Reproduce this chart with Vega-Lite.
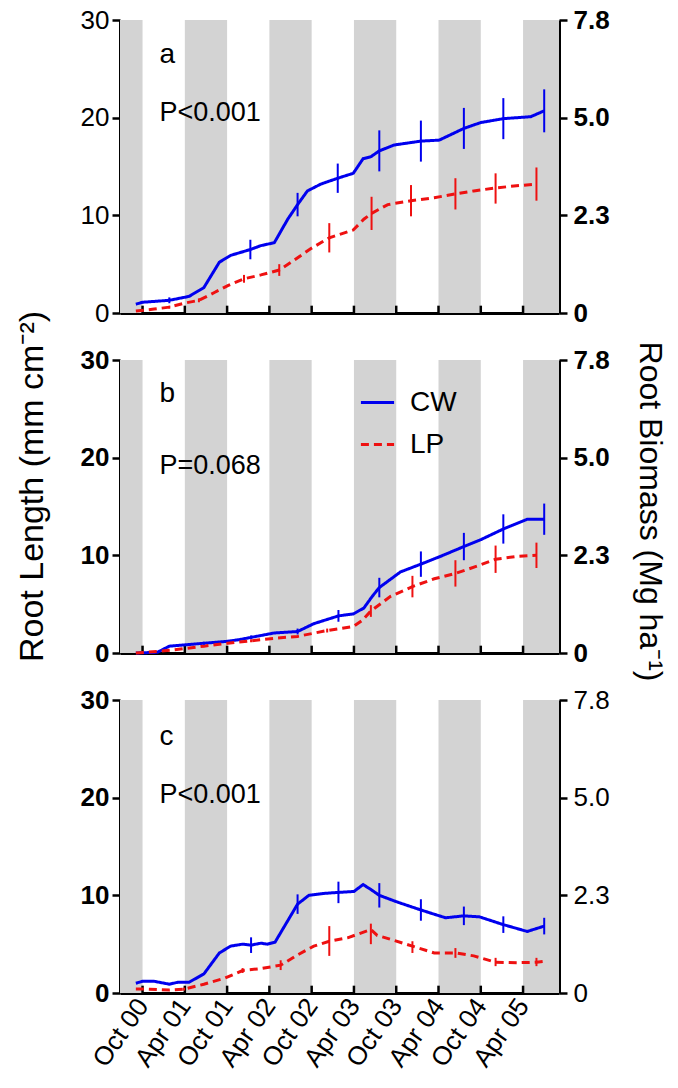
{
  "$schema": "https://vega.github.io/schema/vega-lite/v6.json",
  "padding": {"left": 15, "top": 7, "right": 2, "bottom": 2},
  "background": "white",
  "config": {
    "font": "Liberation Sans",
    "view": {"stroke": null},
    "axis": {"grid": false, "zindex": 2, "domainColor": "black", "tickColor": "black", "domainWidth": 3, "tickWidth": 2.5, "labelColor": "black", "titleColor": "black", "labelFontSize": 26, "titleFontSize": 34, "titleFontWeight": "normal", "labelFont": "Liberation Sans", "titleFont": "Liberation Sans"},
    "legend": {"labelFont": "Liberation Sans"}
  },
  "datasets": {
    "bands": [
      {"start": -3.2, "end": 0},
      {"start": 6, "end": 12},
      {"start": 18, "end": 24},
      {"start": 30, "end": 36},
      {"start": 42, "end": 48},
      {"start": 54, "end": 59.1}
    ],
    "xticks": [
      {"t": 0}, {"t": 6}, {"t": 12}, {"t": 18}, {"t": 24}, {"t": 30}, {"t": 36}, {"t": 42}, {"t": 48}, {"t": 54}
    ],
    "roots": [
      {"panel": "a", "series": "CW", "m": -0.95, "v": 0.9},
      {"panel": "a", "series": "CW", "m": 0, "v": 1.1},
      {"panel": "a", "series": "CW", "m": 3.8, "v": 1.3, "lo": 1.0, "hi": 1.6},
      {"panel": "a", "series": "CW", "m": 6.6, "v": 1.7},
      {"panel": "a", "series": "CW", "m": 8.7, "v": 2.6},
      {"panel": "a", "series": "CW", "m": 10.9, "v": 5.2},
      {"panel": "a", "series": "CW", "m": 12.5, "v": 5.9},
      {"panel": "a", "series": "CW", "m": 15.3, "v": 6.5, "lo": 5.5, "hi": 7.5},
      {"panel": "a", "series": "CW", "m": 16.8, "v": 6.9},
      {"panel": "a", "series": "CW", "m": 18.7, "v": 7.2},
      {"panel": "a", "series": "CW", "m": 20.6, "v": 9.6},
      {"panel": "a", "series": "CW", "m": 22.0, "v": 11.1, "lo": 9.9, "hi": 12.3},
      {"panel": "a", "series": "CW", "m": 23.4, "v": 12.5},
      {"panel": "a", "series": "CW", "m": 25.3, "v": 13.2},
      {"panel": "a", "series": "CW", "m": 27.7, "v": 13.8, "lo": 12.3, "hi": 15.3},
      {"panel": "a", "series": "CW", "m": 29.9, "v": 14.3},
      {"panel": "a", "series": "CW", "m": 31.3, "v": 15.8},
      {"panel": "a", "series": "CW", "m": 32.4, "v": 16.0},
      {"panel": "a", "series": "CW", "m": 33.6, "v": 16.6, "lo": 14.5, "hi": 18.7},
      {"panel": "a", "series": "CW", "m": 35.7, "v": 17.2},
      {"panel": "a", "series": "CW", "m": 39.5, "v": 17.6, "lo": 15.5, "hi": 19.7},
      {"panel": "a", "series": "CW", "m": 42.1, "v": 17.7},
      {"panel": "a", "series": "CW", "m": 45.6, "v": 18.9, "lo": 16.8, "hi": 21.0},
      {"panel": "a", "series": "CW", "m": 48.0, "v": 19.5},
      {"panel": "a", "series": "CW", "m": 51.2, "v": 19.9, "lo": 17.8, "hi": 22.0},
      {"panel": "a", "series": "CW", "m": 55.1, "v": 20.1},
      {"panel": "a", "series": "CW", "m": 57.0, "v": 20.7, "lo": 18.5, "hi": 22.9},
      {"panel": "a", "series": "LP", "m": -0.95, "v": 0.2},
      {"panel": "a", "series": "LP", "m": 1.65, "v": 0.4},
      {"panel": "a", "series": "LP", "m": 3.8, "v": 0.6, "lo": 0.45, "hi": 0.75},
      {"panel": "a", "series": "LP", "m": 5.9, "v": 1.0},
      {"panel": "a", "series": "LP", "m": 8.0, "v": 1.3, "lo": 1.1, "hi": 1.5},
      {"panel": "a", "series": "LP", "m": 10.2, "v": 2.1},
      {"panel": "a", "series": "LP", "m": 12.1, "v": 2.8},
      {"panel": "a", "series": "LP", "m": 14.4, "v": 3.5, "lo": 3.1, "hi": 3.9},
      {"panel": "a", "series": "LP", "m": 16.8, "v": 3.9},
      {"panel": "a", "series": "LP", "m": 19.4, "v": 4.4, "lo": 3.8, "hi": 5.0},
      {"panel": "a", "series": "LP", "m": 21.5, "v": 5.4},
      {"panel": "a", "series": "LP", "m": 23.9, "v": 6.6},
      {"panel": "a", "series": "LP", "m": 26.5, "v": 7.7, "lo": 6.2, "hi": 9.2},
      {"panel": "a", "series": "LP", "m": 29.9, "v": 8.5},
      {"panel": "a", "series": "LP", "m": 31.4, "v": 9.6},
      {"panel": "a", "series": "LP", "m": 32.5, "v": 10.2, "lo": 8.5, "hi": 11.9},
      {"panel": "a", "series": "LP", "m": 34.8, "v": 11.1},
      {"panel": "a", "series": "LP", "m": 38.1, "v": 11.5, "lo": 9.9, "hi": 13.1},
      {"panel": "a", "series": "LP", "m": 41.4, "v": 11.8},
      {"panel": "a", "series": "LP", "m": 44.4, "v": 12.2, "lo": 10.6, "hi": 13.8},
      {"panel": "a", "series": "LP", "m": 47.0, "v": 12.5},
      {"panel": "a", "series": "LP", "m": 50.1, "v": 12.8, "lo": 11.2, "hi": 14.3},
      {"panel": "a", "series": "LP", "m": 52.7, "v": 13.0},
      {"panel": "a", "series": "LP", "m": 55.9, "v": 13.2, "lo": 11.5, "hi": 14.9},
      {"panel": "b", "series": "CW", "m": -0.95, "v": 0},
      {"panel": "b", "series": "CW", "m": 2.1, "v": 0.07},
      {"panel": "b", "series": "CW", "m": 3.8, "v": 0.7},
      {"panel": "b", "series": "CW", "m": 8.7, "v": 1.0, "lo": 0.85, "hi": 1.15},
      {"panel": "b", "series": "CW", "m": 12.1, "v": 1.2},
      {"panel": "b", "series": "CW", "m": 14.0, "v": 1.4},
      {"panel": "b", "series": "CW", "m": 15.4, "v": 1.6, "lo": 1.4, "hi": 1.8},
      {"panel": "b", "series": "CW", "m": 18.7, "v": 2.05},
      {"panel": "b", "series": "CW", "m": 22.0, "v": 2.2, "lo": 1.9, "hi": 2.5},
      {"panel": "b", "series": "CW", "m": 24.3, "v": 3.0},
      {"panel": "b", "series": "CW", "m": 27.8, "v": 3.8, "lo": 3.2, "hi": 4.4},
      {"panel": "b", "series": "CW", "m": 29.9, "v": 4.0},
      {"panel": "b", "series": "CW", "m": 31.4, "v": 4.6},
      {"panel": "b", "series": "CW", "m": 32.6, "v": 5.8},
      {"panel": "b", "series": "CW", "m": 33.6, "v": 6.7, "lo": 5.7, "hi": 7.7},
      {"panel": "b", "series": "CW", "m": 36.6, "v": 8.3},
      {"panel": "b", "series": "CW", "m": 39.5, "v": 9.1, "lo": 7.8, "hi": 10.4},
      {"panel": "b", "series": "CW", "m": 42.3, "v": 9.9},
      {"panel": "b", "series": "CW", "m": 45.6, "v": 10.9, "lo": 9.5, "hi": 12.3},
      {"panel": "b", "series": "CW", "m": 48.0, "v": 11.6},
      {"panel": "b", "series": "CW", "m": 51.2, "v": 12.7, "lo": 11.2, "hi": 14.2},
      {"panel": "b", "series": "CW", "m": 54.6, "v": 13.7},
      {"panel": "b", "series": "CW", "m": 57.0, "v": 13.7, "lo": 12.1, "hi": 15.3},
      {"panel": "b", "series": "LP", "m": -0.95, "v": 0},
      {"panel": "b", "series": "LP", "m": 2.1, "v": 0.15},
      {"panel": "b", "series": "LP", "m": 5.4, "v": 0.4},
      {"panel": "b", "series": "LP", "m": 8.7, "v": 0.7},
      {"panel": "b", "series": "LP", "m": 12.1, "v": 1.0},
      {"panel": "b", "series": "LP", "m": 15.4, "v": 1.25, "lo": 1.1, "hi": 1.4},
      {"panel": "b", "series": "LP", "m": 18.7, "v": 1.5},
      {"panel": "b", "series": "LP", "m": 22.0, "v": 1.7},
      {"panel": "b", "series": "LP", "m": 26.2, "v": 2.3, "lo": 2.1, "hi": 2.5},
      {"panel": "b", "series": "LP", "m": 29.9, "v": 2.7},
      {"panel": "b", "series": "LP", "m": 31.2, "v": 3.35},
      {"panel": "b", "series": "LP", "m": 32.4, "v": 4.3, "lo": 3.7, "hi": 4.9},
      {"panel": "b", "series": "LP", "m": 35.2, "v": 5.8},
      {"panel": "b", "series": "LP", "m": 38.3, "v": 6.8, "lo": 5.7, "hi": 7.9},
      {"panel": "b", "series": "LP", "m": 41.4, "v": 7.6},
      {"panel": "b", "series": "LP", "m": 44.4, "v": 8.15, "lo": 6.8, "hi": 9.5},
      {"panel": "b", "series": "LP", "m": 47.5, "v": 8.9},
      {"panel": "b", "series": "LP", "m": 50.1, "v": 9.6, "lo": 8.2, "hi": 11.0},
      {"panel": "b", "series": "LP", "m": 53.2, "v": 9.9},
      {"panel": "b", "series": "LP", "m": 55.9, "v": 10.0, "lo": 8.7, "hi": 11.3},
      {"panel": "c", "series": "CW", "m": -0.95, "v": 1.0},
      {"panel": "c", "series": "CW", "m": 0, "v": 1.2},
      {"panel": "c", "series": "CW", "m": 1.65, "v": 1.2},
      {"panel": "c", "series": "CW", "m": 3.8, "v": 0.9},
      {"panel": "c", "series": "CW", "m": 5.0, "v": 1.1},
      {"panel": "c", "series": "CW", "m": 6.6, "v": 1.1},
      {"panel": "c", "series": "CW", "m": 8.7, "v": 1.95},
      {"panel": "c", "series": "CW", "m": 10.9, "v": 4.1},
      {"panel": "c", "series": "CW", "m": 12.5, "v": 4.8},
      {"panel": "c", "series": "CW", "m": 14.2, "v": 5.0},
      {"panel": "c", "series": "CW", "m": 15.4, "v": 4.9, "lo": 4.1, "hi": 5.7},
      {"panel": "c", "series": "CW", "m": 16.8, "v": 5.1},
      {"panel": "c", "series": "CW", "m": 17.7, "v": 5.0},
      {"panel": "c", "series": "CW", "m": 18.8, "v": 5.2},
      {"panel": "c", "series": "CW", "m": 22.0, "v": 9.1, "lo": 8.1, "hi": 10.1},
      {"panel": "c", "series": "CW", "m": 23.6, "v": 10.0},
      {"panel": "c", "series": "CW", "m": 25.8, "v": 10.2},
      {"panel": "c", "series": "CW", "m": 27.8, "v": 10.3, "lo": 9.2, "hi": 11.4},
      {"panel": "c", "series": "CW", "m": 30.0, "v": 10.4},
      {"panel": "c", "series": "CW", "m": 31.3, "v": 11.1},
      {"panel": "c", "series": "CW", "m": 32.4, "v": 10.6},
      {"panel": "c", "series": "CW", "m": 33.6, "v": 10.0, "lo": 8.75, "hi": 11.25},
      {"panel": "c", "series": "CW", "m": 36.2, "v": 9.3},
      {"panel": "c", "series": "CW", "m": 39.5, "v": 8.5, "lo": 7.4, "hi": 9.6},
      {"panel": "c", "series": "CW", "m": 43.0, "v": 7.7},
      {"panel": "c", "series": "CW", "m": 45.6, "v": 7.9, "lo": 6.95, "hi": 8.85},
      {"panel": "c", "series": "CW", "m": 47.8, "v": 7.8},
      {"panel": "c", "series": "CW", "m": 51.2, "v": 7.0, "lo": 6.15, "hi": 7.85},
      {"panel": "c", "series": "CW", "m": 54.6, "v": 6.3},
      {"panel": "c", "series": "CW", "m": 57.0, "v": 6.85, "lo": 6.0, "hi": 7.7},
      {"panel": "c", "series": "LP", "m": -0.95, "v": 0.4},
      {"panel": "c", "series": "LP", "m": 0.7, "v": 0.4},
      {"panel": "c", "series": "LP", "m": 3.8, "v": 0.3},
      {"panel": "c", "series": "LP", "m": 5.9, "v": 0.4, "lo": 0.25, "hi": 0.55},
      {"panel": "c", "series": "LP", "m": 8.7, "v": 0.9},
      {"panel": "c", "series": "LP", "m": 11.6, "v": 1.5},
      {"panel": "c", "series": "LP", "m": 14.2, "v": 2.3, "lo": 2.05, "hi": 2.55},
      {"panel": "c", "series": "LP", "m": 16.8, "v": 2.5},
      {"panel": "c", "series": "LP", "m": 19.6, "v": 2.85, "lo": 2.35, "hi": 3.35},
      {"panel": "c", "series": "LP", "m": 22.0, "v": 3.9},
      {"panel": "c", "series": "LP", "m": 24.3, "v": 4.8},
      {"panel": "c", "series": "LP", "m": 26.5, "v": 5.3, "lo": 3.8, "hi": 6.85},
      {"panel": "c", "series": "LP", "m": 29.1, "v": 5.65},
      {"panel": "c", "series": "LP", "m": 32.4, "v": 6.5, "lo": 5.0, "hi": 7.1},
      {"panel": "c", "series": "LP", "m": 33.3, "v": 5.9},
      {"panel": "c", "series": "LP", "m": 35.2, "v": 5.5},
      {"panel": "c", "series": "LP", "m": 38.3, "v": 4.8, "lo": 4.1, "hi": 5.3},
      {"panel": "c", "series": "LP", "m": 41.4, "v": 4.1},
      {"panel": "c", "series": "LP", "m": 44.4, "v": 4.1, "lo": 3.6, "hi": 4.6},
      {"panel": "c", "series": "LP", "m": 47.0, "v": 3.8},
      {"panel": "c", "series": "LP", "m": 50.1, "v": 3.15, "lo": 2.75, "hi": 3.6},
      {"panel": "c", "series": "LP", "m": 53.2, "v": 3.1},
      {"panel": "c", "series": "LP", "m": 55.9, "v": 3.15, "lo": 2.75, "hi": 3.6},
      {"panel": "c", "series": "LP", "m": 57.0, "v": 3.25}
    ]
  },
  "spacing": 47,
  "bounds": "flush",
  "resolve": {"legend": {"color": "independent", "strokeDash": "independent"}},
  "vconcat": [
    {
      "width": 439, "height": 293,
      "resolve": {"scale": {"y": "independent"}},
      "layer": [
        {"layer": [
          {"data": {"name": "bands"}, "mark": {"type": "rect", "color": "#d3d3d3"},
           "encoding": {"x": {"field": "start", "type": "quantitative", "title": null, "scale": {"domain": [-3.2, 59.1], "nice": false, "zero": false}, "axis": {"orient": "bottom", "values": [0, 6, 12, 18, 24, 30, 36, 42, 48, 54], "labels": false, "ticks": false, "title": null}}, "x2": {"field": "end"}}},
          {"data": {"name": "xticks"}, "mark": {"type": "rule", "color": "black", "strokeWidth": 2.5},
           "encoding": {"x": {"field": "t", "type": "quantitative", "title": null}, "y": {"datum": 0, "type": "quantitative"}, "y2": {"datum": 0.75}}},
          {"data": {"name": "roots"}, "transform": [{"filter": "datum.panel == 'a'"}], "mark": {"type": "line", "strokeWidth": 3},
           "encoding": {"x": {"field": "m", "type": "quantitative", "title": null},
             "y": {"field": "v", "type": "quantitative", "title": null, "scale": {"domain": [0, 30], "nice": false}, "axis": {"values": [0, 10, 20, 30], "tickSize": 8, "labelPadding": 3, "labelFontWeight": "normal", "title": null}},
             "color": {"field": "series", "type": "nominal", "scale": {"domain": ["CW", "LP"], "range": ["#0000ee", "#ee1111"]}, "legend": null},
             "strokeDash": {"field": "series", "type": "nominal", "scale": {"domain": ["CW", "LP"], "range": [[1, 0], [8, 5]]}, "legend": null}}},
          {"data": {"name": "roots"}, "transform": [{"filter": "datum.panel == 'a' && isValid(datum.lo)"}], "mark": {"type": "rule", "strokeWidth": 2},
           "encoding": {"x": {"field": "m", "type": "quantitative", "title": null}, "y": {"field": "lo", "type": "quantitative", "title": null}, "y2": {"field": "hi"},
             "color": {"field": "series", "type": "nominal", "scale": {"domain": ["CW", "LP"], "range": ["#0000ee", "#ee1111"]}, "legend": null}}},
          {"data": {"values": [{}]}, "mark": {"type": "text", "align": "left", "baseline": "middle", "fontSize": 28, "color": "black"},
           "encoding": {"x": {"datum": 2.4, "type": "quantitative"}, "y": {"datum": 26.4, "type": "quantitative"}, "text": {"value": "a"}}},
          {"data": {"values": [{}]}, "mark": {"type": "text", "align": "left", "baseline": "middle", "fontSize": 27, "color": "black"},
           "encoding": {"x": {"datum": 2.4, "type": "quantitative"}, "y": {"datum": 20.5, "type": "quantitative"}, "text": {"value": "P<0.001"}}}
        ]},
        {"data": {"values": [{}]}, "mark": {"type": "point", "opacity": 0},
         "encoding": {
           "y": {"datum": 0, "type": "quantitative", "scale": {"domain": [0, 30], "nice": false},
           "axis": {"orient": "right", "values": [0, 10, 20, 30], "tickSize": 8, "labelPadding": 6, "labelFontWeight": "bold", "title": null,
             "labelExpr": "datum.value == 0 ? '0' : datum.value == 10 ? '2.3' : datum.value == 20 ? '5.0' : '7.8'"}}}}
      ]
    },
    {
      "width": 439, "height": 293,
      "resolve": {"scale": {"y": "independent"}},
      "layer": [
        {"layer": [
          {"data": {"name": "bands"}, "mark": {"type": "rect", "color": "#d3d3d3"},
           "encoding": {"x": {"field": "start", "type": "quantitative", "title": null, "scale": {"domain": [-3.2, 59.1], "nice": false, "zero": false}, "axis": {"orient": "bottom", "values": [0, 6, 12, 18, 24, 30, 36, 42, 48, 54], "labels": false, "ticks": false, "title": null}}, "x2": {"field": "end"}}},
          {"data": {"name": "xticks"}, "mark": {"type": "rule", "color": "black", "strokeWidth": 2.5},
           "encoding": {"x": {"field": "t", "type": "quantitative", "title": null}, "y": {"datum": 0, "type": "quantitative"}, "y2": {"datum": 0.75}}},
          {"data": {"name": "roots"}, "transform": [{"filter": "datum.panel == 'b'"}], "mark": {"type": "line", "strokeWidth": 3},
           "encoding": {"x": {"field": "m", "type": "quantitative", "title": null},
             "y": {"field": "v", "type": "quantitative", "title": "Root Length (mm cm⁻²)", "scale": {"domain": [0, 30], "nice": false}, "axis": {"values": [0, 10, 20, 30], "tickSize": 8, "labelPadding": 3, "labelFontWeight": "bold", "titlePadding": 31, "titleY": 126, "title": "Root Length (mm cm⁻²)"}},
             "color": {"field": "series", "type": "nominal", "scale": {"domain": ["CW", "LP"], "range": ["#0000ee", "#ee1111"]},
               "legend": {"orient": "none", "legendX": 239, "legendY": 24, "title": null, "padding": 0, "labelFontSize": 28, "symbolStrokeWidth": 3, "symbolSize": 1100, "symbolType": "stroke", "rowPadding": 9, "labelOffset": 14, "labelColor": "black"}},
             "strokeDash": {"field": "series", "type": "nominal", "scale": {"domain": ["CW", "LP"], "range": [[1, 0], [8, 5]]},
               "legend": {"orient": "none", "legendX": 239, "legendY": 24, "title": null, "padding": 0, "labelFontSize": 28, "symbolStrokeWidth": 3, "symbolSize": 1100, "symbolType": "stroke", "rowPadding": 9, "labelOffset": 14, "labelColor": "black"}}}},
          {"data": {"name": "roots"}, "transform": [{"filter": "datum.panel == 'b' && isValid(datum.lo)"}], "mark": {"type": "rule", "strokeWidth": 2},
           "encoding": {"x": {"field": "m", "type": "quantitative", "title": null}, "y": {"field": "lo", "type": "quantitative", "title": "Root Length (mm cm⁻²)"}, "y2": {"field": "hi"},
             "color": {"field": "series", "type": "nominal", "scale": {"domain": ["CW", "LP"], "range": ["#0000ee", "#ee1111"]}, "legend": null}}},
          {"data": {"values": [{}]}, "mark": {"type": "text", "align": "left", "baseline": "middle", "fontSize": 28, "color": "black"},
           "encoding": {"x": {"datum": 2.4, "type": "quantitative"}, "y": {"datum": 26.5, "type": "quantitative"}, "text": {"value": "b"}}},
          {"data": {"values": [{}]}, "mark": {"type": "text", "align": "left", "baseline": "middle", "fontSize": 27, "color": "black"},
           "encoding": {"x": {"datum": 2.4, "type": "quantitative"}, "y": {"datum": 19.1, "type": "quantitative"}, "text": {"value": "P=0.068"}}}
        ]},
        {"data": {"values": [{}]}, "mark": {"type": "point", "opacity": 0},
         "encoding": {
           "y": {"datum": 0, "type": "quantitative", "scale": {"domain": [0, 30], "nice": false},
           "axis": {"orient": "right", "values": [0, 10, 20, 30], "tickSize": 8, "labelPadding": 6, "labelFontWeight": "bold", "title": "Root Biomass (Mg ha⁻¹)", "titleAngle": 90, "titlePadding": 23, "titleFontSize": 32, "titleY": 151,
             "labelExpr": "datum.value == 0 ? '0' : datum.value == 10 ? '2.3' : datum.value == 20 ? '5.0' : '7.8'"}}}}
      ]
    },
    {
      "width": 439, "height": 293,
      "resolve": {"scale": {"y": "independent"}},
      "layer": [
        {"layer": [
          {"data": {"name": "bands"}, "mark": {"type": "rect", "color": "#d3d3d3"},
           "encoding": {"x": {"field": "start", "type": "quantitative", "title": null, "scale": {"domain": [-3.2, 59.1], "nice": false, "zero": false},
             "axis": {"orient": "bottom", "values": [0, 6, 12, 18, 24, 30, 36, 42, 48, 54], "ticks": false, "title": null, "labelAngle": -55, "labelPadding": 8, "labelOverlap": false, "labelFontWeight": "normal", "labelAlign": "right", "labelBaseline": "middle",
               "labelExpr": "['Oct 00','Apr 01','Oct 01','Apr 02','Oct 02','Apr 03','Oct 03','Apr 04','Oct 04','Apr 05'][round(datum.value / 6)]"}}, "x2": {"field": "end"}}},
          {"data": {"name": "xticks"}, "mark": {"type": "rule", "color": "black", "strokeWidth": 2.5},
           "encoding": {"x": {"field": "t", "type": "quantitative", "title": null}, "y": {"datum": 0, "type": "quantitative"}, "y2": {"datum": 0.75}}},
          {"data": {"name": "roots"}, "transform": [{"filter": "datum.panel == 'c'"}], "mark": {"type": "line", "strokeWidth": 3},
           "encoding": {"x": {"field": "m", "type": "quantitative", "title": null},
             "y": {"field": "v", "type": "quantitative", "title": null, "scale": {"domain": [0, 30], "nice": false}, "axis": {"values": [0, 10, 20, 30], "tickSize": 8, "labelPadding": 3, "labelFontWeight": "bold", "title": null}},
             "color": {"field": "series", "type": "nominal", "scale": {"domain": ["CW", "LP"], "range": ["#0000ee", "#ee1111"]}, "legend": null},
             "strokeDash": {"field": "series", "type": "nominal", "scale": {"domain": ["CW", "LP"], "range": [[1, 0], [8, 5]]}, "legend": null}}},
          {"data": {"name": "roots"}, "transform": [{"filter": "datum.panel == 'c' && isValid(datum.lo)"}], "mark": {"type": "rule", "strokeWidth": 2},
           "encoding": {"x": {"field": "m", "type": "quantitative", "title": null}, "y": {"field": "lo", "type": "quantitative", "title": null}, "y2": {"field": "hi"},
             "color": {"field": "series", "type": "nominal", "scale": {"domain": ["CW", "LP"], "range": ["#0000ee", "#ee1111"]}, "legend": null}}},
          {"data": {"values": [{}]}, "mark": {"type": "text", "align": "left", "baseline": "middle", "fontSize": 28, "color": "black"},
           "encoding": {"x": {"datum": 2.4, "type": "quantitative"}, "y": {"datum": 26.2, "type": "quantitative"}, "text": {"value": "c"}}},
          {"data": {"values": [{}]}, "mark": {"type": "text", "align": "left", "baseline": "middle", "fontSize": 27, "color": "black"},
           "encoding": {"x": {"datum": 2.4, "type": "quantitative"}, "y": {"datum": 20.3, "type": "quantitative"}, "text": {"value": "P<0.001"}}}
        ]},
        {"data": {"values": [{}]}, "mark": {"type": "point", "opacity": 0},
         "encoding": {
           "y": {"datum": 0, "type": "quantitative", "scale": {"domain": [0, 30], "nice": false},
           "axis": {"orient": "right", "values": [0, 10, 20, 30], "tickSize": 8, "labelPadding": 6, "labelFontWeight": "normal", "title": null,
             "labelExpr": "datum.value == 0 ? '0' : datum.value == 10 ? '2.3' : datum.value == 20 ? '5.0' : '7.8'"}}}}
      ]
    }
  ]
}
